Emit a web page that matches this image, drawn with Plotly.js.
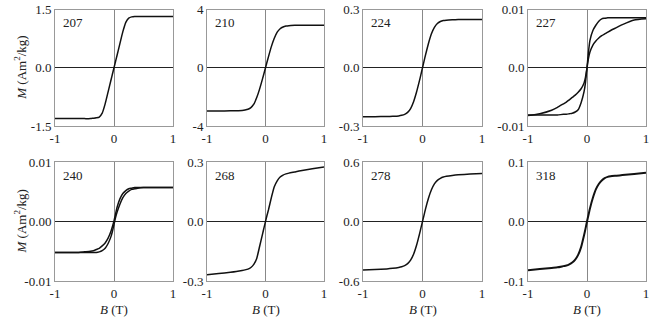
<!DOCTYPE html>
<html>
<head>
<meta charset="utf-8">
<script src="https://cdn.plot.ly/plotly-3.0.1.min.js"></script>
<style>
  html, body { margin: 0; padding: 0; background: #fff; }
  #chart { width: 653px; height: 319px; }
</style>
</head>
<body>
<div id="chart"></div>
<script>
// field values B (T), shared by every panel
const B = [-1, -0.8, -0.6, -0.5, -0.4, -0.35, -0.3, -0.25, -0.2, -0.15, -0.1, -0.05, -0.025, 0,
           0.025, 0.05, 0.1, 0.15, 0.2, 0.25, 0.3, 0.35, 0.4, 0.5, 0.6, 0.8, 1];

// magnetisation M (Am2/kg)
const M207 = [-1.31, -1.31, -1.31, -1.31, -1.31, -1.30, -1.29, -1.27, -1.17, -0.93, -0.62, -0.31, -0.155, 0,
              0.155, 0.31, 0.62, 0.93, 1.17, 1.28, 1.31, 1.32, 1.32, 1.32, 1.32, 1.32, 1.32];
const M210 = [-2.97, -2.97, -2.96, -2.95, -2.93, -2.90, -2.85, -2.74, -2.50, -2.05, -1.45, -0.75, -0.38, 0,
              0.38, 0.75, 1.45, 2.02, 2.45, 2.68, 2.80, 2.86, 2.89, 2.91, 2.92, 2.92, 2.92];
const M224 = [-0.252, -0.252, -0.251, -0.250, -0.248, -0.245, -0.240, -0.230, -0.210, -0.175, -0.125, -0.065, -0.033, 0,
              0.033, 0.065, 0.125, 0.175, 0.208, 0.228, 0.238, 0.243, 0.245, 0.247, 0.248, 0.248, 0.248];
const M227a = [-0.0081, -0.0081, -0.0081, -0.0081, -0.0080, -0.0080, -0.0079, -0.0078, -0.0076, -0.0072, -0.0060, -0.0041, -0.0025, 0,
               0.0027, 0.0047, 0.0064, 0.0073, 0.0080, 0.0084, 0.0085, 0.0086, 0.0086, 0.0086, 0.0086, 0.0086, 0.0086];
const M227b = [-0.0082, -0.0079, -0.0073, -0.0068, -0.0062, -0.0059, -0.0055, -0.0051, -0.0047, -0.0042, -0.0036, -0.0026, -0.0016, 0,
               0.0016, 0.0027, 0.0039, 0.0046, 0.0051, 0.0055, 0.0058, 0.0061, 0.0064, 0.0069, 0.0074, 0.0082, 0.0084];
const M240a = [-0.0052, -0.0052, -0.0052, -0.0051, -0.0050, -0.0049, -0.0047, -0.0045, -0.0041, -0.0036, -0.0028, -0.0016, -0.0008, 0.0001,
               0.0012, 0.0023, 0.0038, 0.0047, 0.0052, 0.0055, 0.0056, 0.0057, 0.0057, 0.0057, 0.0057, 0.0057, 0.0057];
const M240b = [-0.0052, -0.0052, -0.0052, -0.0052, -0.0052, -0.0052, -0.0052, -0.0051, -0.0049, -0.0045, -0.0037, -0.0025, -0.0016, -0.0005,
               0.0006, 0.0015, 0.0029, 0.0040, 0.0047, 0.0051, 0.0054, 0.0055, 0.0056, 0.0057, 0.0057, 0.0057, 0.0057];
const M268 = [-0.268, -0.262, -0.256, -0.252, -0.247, -0.244, -0.240, -0.232, -0.216, -0.186, -0.125, -0.062, -0.031, 0,
              0.030, 0.058, 0.120, 0.175, 0.205, 0.224, 0.234, 0.240, 0.244, 0.250, 0.256, 0.266, 0.275];
const M278 = [-0.490, -0.485, -0.478, -0.472, -0.463, -0.456, -0.445, -0.425, -0.390, -0.330, -0.240, -0.125, -0.062, 0,
              0.062, 0.125, 0.235, 0.320, 0.380, 0.415, 0.435, 0.448, 0.456, 0.465, 0.471, 0.478, 0.484];
const M318 = [-0.082, -0.080, -0.078, -0.077, -0.075, -0.074, -0.072, -0.069, -0.064, -0.056, -0.043, -0.023, -0.012, 0,
              0.011, 0.022, 0.040, 0.054, 0.063, 0.069, 0.073, 0.075, 0.076, 0.077, 0.078, 0.080, 0.082];

const sampleNames = ['207', '210', '224', '227', '240', '268', '278', '318'];
const curves = [[M207], [M210], [M224], [M227a, M227b], [M240a, M240b], [M268], [M278], [M318]];
const yLimits = [1.5, 4, 0.3, 0.01, 0.01, 0.3, 0.6, 0.1];
const yTickText = [['-1.5', '0.0', '1.5'], ['-4', '0', '4'], ['-0.3', '0.0', '0.3'], ['-0.01', '0.0', '0.01'],
                   ['-0.01', '0.00', '0.01'], ['-0.3', '0.0', '0.3'], ['-0.6', '0.0', '0.6'], ['-0.1', '0.0', '0.1']];
const xTickVals = [-1, 0, 1];
const xTickText = ['-1', '0', '1'];

const W = 653, H = 319;
const colPx = [[55, 173], [207, 324], [363, 482], [528, 646]];
const rowPx = [[9.5, 126], [162, 281]];
const font = { family: 'Liberation Serif', size: 13, color: '#222' };

const data = [];
const layout = {
  width: W, height: H,
  margin: { l: 0, r: 0, t: 0, b: 0 },
  paper_bgcolor: '#fff', plot_bgcolor: '#fff',
  showlegend: false,
  font: font,
  annotations: []
};

for (let i = 0; i < 8; i++) {
  const row = Math.floor(i / 4), col = i % 4;
  const n = i + 1;
  const sfx = n === 1 ? '' : String(n);
  const lim = yLimits[i];

  curves[i].forEach(function (m) {
    data.push({
      x: B, y: m, type: 'scatter', mode: 'lines',
      xaxis: 'x' + sfx, yaxis: 'y' + sfx,
      line: { color: '#111', width: i === 7 ? 2 : 1.5, shape: 'spline', smoothing: 0.5 },
      hoverinfo: 'skip'
    });
  });

  layout['xaxis' + sfx] = {
    domain: [colPx[col][0] / W, colPx[col][1] / W],
    anchor: 'y' + sfx,
    range: [-1, 1],
    tickvals: xTickVals, ticktext: xTickText,
    showgrid: false, zeroline: true, zerolinecolor: '#888', zerolinewidth: 1,
    showline: true, mirror: true, linecolor: '#999', linewidth: 1,
    ticks: '', tickfont: font, fixedrange: true
  };
  layout['yaxis' + sfx] = {
    domain: [1 - rowPx[row][1] / H, 1 - rowPx[row][0] / H],
    anchor: 'x' + sfx,
    range: [-lim, lim],
    tickvals: [-lim, 0, lim], ticktext: yTickText[i],
    showgrid: false, zeroline: true, zerolinecolor: '#222', zerolinewidth: 1,
    showline: true, mirror: true, linecolor: '#999', linewidth: 1,
    ticks: '', tickfont: font, fixedrange: true
  };

  // sample number, top left inside the panel
  layout.annotations.push({
    text: sampleNames[i], xref: 'paper', yref: 'paper',
    x: (colPx[col][0] + 6) / W, y: 1 - (rowPx[row][0] + 13) / H,
    xanchor: 'left', yanchor: 'middle', showarrow: false, font: font
  });

  if (row === 1) {
    layout.annotations.push({
      text: '<i>B</i> (T)', xref: 'paper', yref: 'paper',
      x: (colPx[col][0] + colPx[col][1]) / 2 / W, y: 1 - 309 / H,
      xanchor: 'center', yanchor: 'middle', showarrow: false, font: font
    });
  }
}

// y titles for the left column
rowPx.forEach(function (r) {
  layout.annotations.push({
    text: '<i>M</i> (Am<sup>2</sup>/kg)', xref: 'paper', yref: 'paper',
    x: 20 / W, y: 1 - (r[0] + r[1]) / 2 / H, textangle: -90,
    xanchor: 'center', yanchor: 'middle', showarrow: false, font: font
  });
});

Plotly.newPlot('chart', data, layout, { staticPlot: true, displayModeBar: false });
</script>
</body>
</html>
